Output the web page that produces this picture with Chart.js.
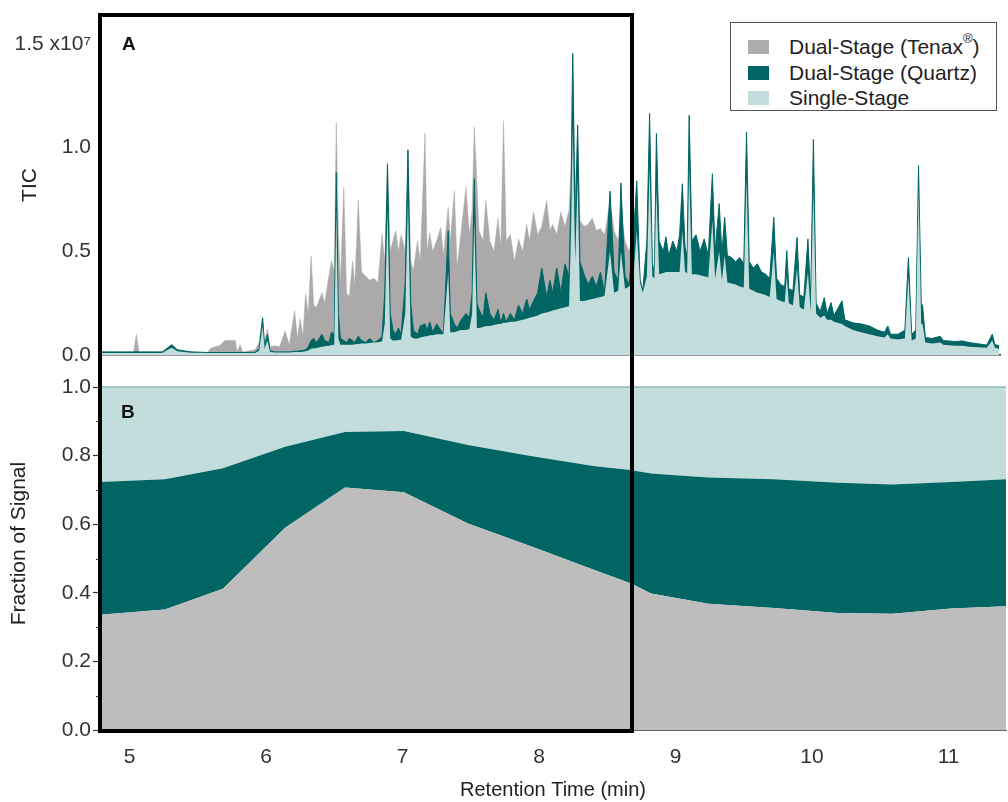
<!DOCTYPE html>
<html><head><meta charset="utf-8">
<script src="https://cdn.jsdelivr.net/npm/chart.js@4/dist/chart.umd.min.js"></script>
<style>
html,body{margin:0;padding:0;background:#fff;}
#wrap{position:relative;width:1008px;height:802px;overflow:hidden;font-family:"Liberation Sans",Arial,sans-serif;background:#fff;}
canvas{position:absolute;left:0;}
#cA{top:0;}
#cB{top:340px;}
#box{position:absolute;left:98px;top:13px;width:536px;height:720px;border:4px solid #000;box-sizing:border-box;pointer-events:none;}
#legend{position:absolute;left:730px;top:22px;width:267px;height:89px;border:1px solid #555;box-sizing:border-box;background:#fff;}
.row{position:absolute;left:17px;height:24px;font-size:21px;line-height:24px;color:#222;}
.sw{position:absolute;left:0;top:5px;width:21px;height:14px;}
.lt{position:absolute;left:41px;top:0;white-space:nowrap;}
.lt sup{font-size:13px;line-height:0;position:relative;top:-3px;}
.panel{position:absolute;font-weight:bold;font-size:19px;line-height:19px;color:#111;}
</style></head>
<body>
<div id="wrap">
<canvas id="cA" width="1008" height="370"></canvas>
<canvas id="cB" width="1008" height="462"></canvas>
<div class="panel" style="left:122px;top:34px;">A</div>
<div class="panel" style="left:121px;top:402px;">B</div>
<div id="box"></div>
<div id="legend">
 <div class="row" style="top:12px;"><div class="sw" style="background:#adadad"></div><div class="lt">Dual-Stage (Tenax<sup>®</sup>)</div></div>
 <div class="row" style="top:38px;"><div class="sw" style="background:#016663"></div><div class="lt">Dual-Stage (Quartz)</div></div>
 <div class="row" style="top:63px;"><div class="sw" style="background:#c3dcdc"></div><div class="lt">Single-Stage</div></div>
</div>
</div>
<script>
// ---- Panel A: TIC traces (units of 1e7 counts) ----
const rtA = [4.784,4.95,5.03,5.05,5.07,5.24,5.28,5.31,5.35,5.45,5.57,5.60,5.66,5.70,5.775,5.79,5.81,5.83,5.92,5.95,5.975,5.99,6.01,6.03,6.07,6.10,6.14,6.17,6.21,6.23,6.25,6.27,6.29,6.31,6.33,6.35,6.37,6.41,6.43,6.46,6.48,6.50,6.515,6.53,6.545,6.57,6.59,6.61,6.635,6.65,6.676,6.70,6.73,6.76,6.79,6.82,6.85,6.87,6.89,6.91,6.93,6.95,6.97,6.99,7.02,7.04,7.06,7.08,7.11,7.13,7.165,7.18,7.20,7.22,7.25,7.28,7.30,7.335,7.35,7.38,7.40,7.43,7.465,7.49,7.51,7.526,7.545,7.56,7.59,7.61,7.64,7.67,7.70,7.72,7.74,7.76,7.79,7.82,7.85,7.88,7.91,7.93,7.96,7.99,8.02,8.056,8.08,8.10,8.13,8.16,8.19,8.22,8.235,8.247,8.265,8.283,8.30,8.33,8.36,8.39,8.42,8.45,8.48,8.52,8.55,8.58,8.60,8.63,8.66,8.69,8.716,8.74,8.76,8.79,8.81,8.83,8.845,8.86,8.88,8.91,8.93,8.95,8.98,9.01,9.03,9.05,9.07,9.085,9.10,9.12,9.15,9.18,9.21,9.24,9.27,9.29,9.32,9.34,9.36,9.38,9.41,9.44,9.47,9.50,9.52,9.54,9.57,9.60,9.63,9.66,9.69,9.72,9.74,9.77,9.80,9.815,9.83,9.86,9.89,9.91,9.94,9.97,9.99,10.01,10.03,10.06,10.09,10.11,10.14,10.16,10.22,10.24,10.30,10.36,10.42,10.48,10.53,10.555,10.575,10.63,10.68,10.706,10.73,10.76,10.78,10.80,10.81,10.83,10.88,10.94,10.96,11.05,11.10,11.15,11.28,11.32,11.34,11.37];
const tenaxTIC = [0.010,0.010,0.012,0.100,0.012,0.012,0.035,0.050,0.025,0.014,0.012,0.035,0.045,0.070,0.070,0.015,0.050,0.015,0.025,0.060,0.180,0.060,0.126,0.040,0.045,0.040,0.116,0.050,0.213,0.080,0.174,0.090,0.294,0.200,0.479,0.240,0.230,0.300,0.250,0.380,0.455,0.400,1.120,0.600,0.350,0.810,0.300,0.280,0.455,0.330,0.745,0.400,0.380,0.360,0.370,0.350,0.584,0.450,0.930,0.500,0.550,0.600,0.500,0.580,0.500,0.980,0.450,0.410,0.550,0.450,1.070,0.500,0.590,0.500,0.550,0.616,0.480,0.713,0.550,0.790,0.420,0.600,0.810,0.580,0.700,1.100,0.830,0.600,0.550,0.745,0.550,0.500,0.660,0.520,1.130,0.550,0.580,0.450,0.560,0.500,0.630,0.550,0.690,0.580,0.620,0.745,0.600,0.630,0.580,0.690,0.620,0.700,0.900,1.440,0.800,1.080,0.650,0.620,0.630,0.660,0.600,0.610,0.580,0.740,0.600,0.550,0.700,0.550,0.500,0.600,0.700,0.400,0.280,0.330,0.350,0.340,0.340,0.350,0.350,0.355,0.360,0.360,0.360,0.360,0.360,0.360,0.360,0.355,0.355,0.350,0.350,0.345,0.340,0.335,0.330,0.330,0.325,0.320,0.315,0.310,0.305,0.300,0.295,0.290,0.285,0.285,0.280,0.270,0.265,0.260,0.250,0.245,0.240,0.230,0.225,0.220,0.220,0.210,0.205,0.200,0.195,0.190,0.185,0.180,0.175,0.160,0.165,0.150,0.150,0.140,0.130,0.120,0.100,0.090,0.080,0.075,0.070,0.075,0.065,0.060,0.065,0.300,0.060,0.065,0.600,0.120,0.110,0.050,0.045,0.050,0.040,0.035,0.035,0.030,0.025,0.050,0.025,0.020];
const quartzTIC = [0.015,0.015,0.015,0.016,0.015,0.015,0.035,0.050,0.025,0.015,0.012,0.012,0.012,0.012,0.012,0.012,0.012,0.012,0.013,0.030,0.180,0.040,0.100,0.020,0.015,0.015,0.015,0.015,0.018,0.018,0.020,0.022,0.025,0.040,0.070,0.080,0.060,0.100,0.070,0.060,0.110,0.100,0.880,0.200,0.080,0.070,0.060,0.080,0.070,0.060,0.090,0.070,0.060,0.080,0.060,0.070,0.090,0.300,0.920,0.200,0.120,0.100,0.130,0.100,0.350,0.990,0.250,0.120,0.100,0.140,0.150,0.120,0.160,0.110,0.150,0.120,0.105,0.600,0.200,0.150,0.130,0.170,0.200,0.180,0.300,0.850,0.250,0.220,0.180,0.300,0.200,0.170,0.220,0.155,0.200,0.160,0.200,0.170,0.240,0.200,0.270,0.220,0.260,0.300,0.420,0.280,0.360,0.300,0.420,0.300,0.440,0.380,0.800,1.455,0.600,1.110,0.450,0.390,0.340,0.380,0.330,0.400,0.300,0.790,0.400,0.360,0.830,0.380,0.340,0.550,0.840,0.360,0.310,0.550,1.165,0.450,0.390,1.068,0.550,0.500,0.570,0.480,0.550,0.500,0.580,0.826,0.520,0.480,1.156,0.550,0.580,0.500,0.560,0.480,0.874,0.500,0.730,0.490,0.664,0.480,0.470,0.450,0.470,0.440,1.075,0.450,0.420,0.440,0.400,0.390,0.370,0.664,0.370,0.340,0.330,0.503,0.320,0.310,0.567,0.290,0.280,0.560,0.270,1.040,0.250,0.210,0.277,0.200,0.253,0.190,0.261,0.170,0.155,0.150,0.140,0.120,0.110,0.140,0.100,0.100,0.120,0.470,0.100,0.120,0.914,0.250,0.237,0.084,0.080,0.090,0.070,0.065,0.068,0.060,0.048,0.100,0.050,0.045];
const singleTIC = [0.010,0.010,0.010,0.010,0.010,0.010,0.025,0.035,0.018,0.011,0.010,0.010,0.010,0.010,0.010,0.010,0.010,0.010,0.010,0.020,0.140,0.030,0.070,0.015,0.012,0.012,0.012,0.012,0.014,0.014,0.015,0.016,0.018,0.022,0.030,0.032,0.034,0.040,0.042,0.045,0.048,0.050,0.700,0.080,0.050,0.050,0.050,0.050,0.050,0.052,0.053,0.055,0.056,0.058,0.060,0.062,0.065,0.150,0.700,0.080,0.070,0.070,0.072,0.074,0.200,0.750,0.090,0.080,0.080,0.085,0.090,0.090,0.095,0.095,0.100,0.100,0.100,0.400,0.110,0.110,0.115,0.120,0.120,0.125,0.200,0.650,0.130,0.130,0.135,0.140,0.140,0.145,0.150,0.150,0.155,0.155,0.160,0.160,0.165,0.170,0.175,0.180,0.185,0.190,0.200,0.205,0.210,0.215,0.220,0.225,0.230,0.235,0.600,1.100,0.450,0.850,0.260,0.260,0.265,0.270,0.275,0.280,0.285,0.500,0.300,0.310,0.500,0.320,0.330,0.360,0.600,0.350,0.300,0.380,0.900,0.380,0.370,0.800,0.390,0.395,0.400,0.400,0.400,0.400,0.400,0.600,0.400,0.395,0.900,0.390,0.390,0.385,0.380,0.375,0.650,0.370,0.500,0.360,0.480,0.350,0.345,0.340,0.330,0.325,0.850,0.320,0.310,0.300,0.295,0.290,0.280,0.500,0.270,0.260,0.255,0.380,0.250,0.240,0.420,0.230,0.220,0.400,0.210,0.800,0.200,0.180,0.190,0.170,0.170,0.160,0.150,0.140,0.120,0.110,0.100,0.090,0.085,0.100,0.080,0.075,0.080,0.380,0.070,0.080,0.800,0.150,0.150,0.060,0.055,0.060,0.050,0.045,0.045,0.040,0.035,0.070,0.035,0.030];
const ticksA = [0, 0.5, 1.0, 1.5];
const tickLabelsA = ['0.0', '0.5', '1.0', '1.5 x10\u2077'];

// ---- Panel B: fraction of signal ----
const rtB = [4.784,5.26,5.685,6.14,6.579,7.01,7.48,7.95,8.41,8.67,8.82,9.24,9.72,10.19,10.59,11.02,11.421];
const fracTenax  = [0.336,0.351,0.412,0.590,0.707,0.693,0.602,0.534,0.466,0.428,0.398,0.368,0.356,0.341,0.339,0.354,0.361];
const fracQuartz = [0.387,0.380,0.351,0.236,0.162,0.179,0.229,0.264,0.303,0.330,0.350,0.368,0.375,0.380,0.377,0.369,0.370];
const fracSingle = [0.277,0.269,0.237,0.174,0.131,0.128,0.169,0.202,0.231,0.242,0.252,0.264,0.269,0.279,0.284,0.277,0.269];
const ticksB = [0, 0.2, 0.4, 0.6, 0.8, 1.0];
const minorTicksB = [0.1, 0.3, 0.5, 0.7, 0.9];
const ticksX = [5, 6, 7, 8, 9, 10, 11];

const C_GRAY_A = '#aba9aa', C_GRAY_B = '#bdbdbd', C_DARK = '#016663', C_LIGHT = '#c3dcdc';
const FONT = '"Liberation Sans", Arial, sans-serif';
Chart.defaults.font.family = FONT;
const pts = (xs, ys) => xs.map((x, i) => ({x: x, y: ys[i]}));

new Chart(document.getElementById('cA'), {
  type: 'line',
  data: { datasets: [
    {label: 'Single-Stage', data: pts(rtA, singleTIC), fill: 'origin', backgroundColor: C_LIGHT, borderWidth: 0, pointRadius: 0, tension: 0},
    {label: 'Dual-Stage (Quartz)', data: pts(rtA, quartzTIC), fill: 'origin', backgroundColor: C_DARK, borderColor: C_DARK, borderWidth: 1, pointRadius: 0, tension: 0},
    {label: 'Dual-Stage (Tenax)', data: pts(rtA, tenaxTIC), fill: 'origin', backgroundColor: C_GRAY_A, borderColor: C_GRAY_A, borderWidth: 0.5, pointRadius: 0, tension: 0}
  ]},
  options: {
    responsive: false, animation: false, devicePixelRatio: 1,
    layout: {padding: {top: 15, right: 8, bottom: 15, left: 0}},
    plugins: {legend: {display: false}, tooltip: {enabled: false}},
    scales: {
      x: {type: 'linear', min: 4.784, max: 11.377,
        afterFit: s => { s.height = 0; },
        ticks: {display: false}, grid: {display: false, drawTicks: false},
        border: {display: true, color: '#333', width: 1.5}},
      y: {min: 0, max: 1.64,
        afterFit: s => { s.width = 100; },
        afterBuildTicks: s => { s.ticks = ticksA.map(v => ({value: v})); },
        ticks: {callback: v => tickLabelsA[ticksA.indexOf(v)], font: {size: 21}, color: '#333', padding: 2},
        grid: {display: true, drawOnChartArea: false, tickLength: 7, tickColor: 'rgba(0,0,0,0)'},
        border: {display: true, color: '#000', width: 1},
        title: {display: true, text: 'TIC', font: {size: 21}, color: '#222', padding: {top: 18, bottom: 0}}}
    }
  }
});

const minorTicks = {
  id: 'minorTicks',
  afterDraw(chart) {
    const s = chart.scales.y, ctx = chart.ctx;
    ctx.save(); ctx.strokeStyle = '#333'; ctx.lineWidth = 1;
    minorTicksB.forEach(v => {
      const y = Math.round(s.getPixelForValue(v)) + 0.5;
      ctx.beginPath(); ctx.moveTo(s.right - 4, y); ctx.lineTo(s.right, y); ctx.stroke();
    });
    ctx.restore();
  }
};

new Chart(document.getElementById('cB'), {
  type: 'line',
  data: { datasets: [
    {label: 'Dual-Stage (Tenax)', data: pts(rtB, fracTenax), fill: 'origin', backgroundColor: C_GRAY_B, borderWidth: 0, pointRadius: 0, tension: 0},
    {label: 'Dual-Stage (Quartz)', data: pts(rtB, fracQuartz), fill: '-1', backgroundColor: C_DARK, borderWidth: 0, pointRadius: 0, tension: 0},
    {label: 'Single-Stage', data: pts(rtB, fracSingle), fill: '-1', backgroundColor: C_LIGHT, borderColor: '#5fa3a1', borderWidth: 1, pointRadius: 0, tension: 0}
  ]},
  options: {
    responsive: false, animation: false, devicePixelRatio: 1,
    layout: {padding: {top: 17, right: 2, bottom: 0, left: 0}},
    plugins: {legend: {display: false}, tooltip: {enabled: false}},
    scales: {
      x: {type: 'linear', min: 4.784, max: 11.421,
        afterFit: s => { s.height = 72; },
        afterBuildTicks: s => { s.ticks = ticksX.map(v => ({value: v})); },
        ticks: {font: {size: 21}, color: '#333', padding: 15, maxRotation: 0, callback: v => String(v)},
        grid: {display: false, drawTicks: false},
        border: {display: true, color: '#666', width: 1},
        title: {display: true, text: 'Retention Time (min)', font: {size: 20}, color: '#222', padding: {top: 0, bottom: 0}}},
      y: {stacked: true, min: 0, max: 1.0875,
        afterFit: s => { s.width = 100; },
        afterBuildTicks: s => { s.ticks = ticksB.map(v => ({value: v})); },
        ticks: {callback: v => v.toFixed(1), font: {size: 21}, color: '#333', padding: 2},
        grid: {display: true, drawOnChartArea: false, tickLength: 7, tickColor: '#333', tickWidth: 1.2},
        border: {display: true, color: '#000', width: 1},
        title: {display: true, text: 'Fraction of Signal', font: {size: 21}, color: '#222', padding: {top: 7, bottom: 0}}}
    }
  },
  plugins: [minorTicks]
});
</script>
</body></html>
